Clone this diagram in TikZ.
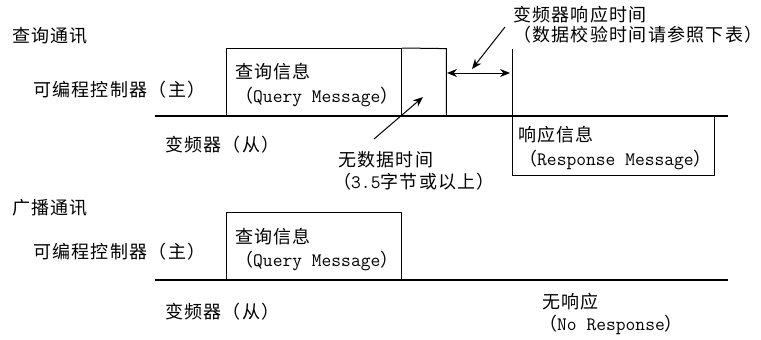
\documentclass[tikz,border=0pt]{standalone}
\usepackage{fontspec}
\usetikzlibrary{arrows.meta}
\newfontfamily\cjk[LetterSpace=7]{Noto Sans CJK SC}
\newcommand\lt[1]{{\ttfamily\fontsize{19}{20}\selectfont #1}}
\tikzset{
  lbl/.style={anchor=west, inner sep=0pt, font=\cjk\fontsize{18}{20}\selectfont},
  boxed/.style={draw, line width=1pt, inner sep=0pt},
  tline/.style={line width=1.3pt},
  arr/.style={line width=1pt, -{Stealth[length=10pt,width=8pt]}},
  darr/.style={line width=1pt, {Stealth[length=10pt,width=8pt]}-{Stealth[length=10pt,width=8pt]}}
}
\begin{document}
\begin{tikzpicture}[x=1pt,y=-1pt]
\useasboundingbox (0,0) rectangle (761,340);
% ---------- top: query communication ----------
\node[lbl] (t1) at (12,36) {查询通讯};
\node[lbl] (m1) at (33,90) {可编程控制器（主）};
\node[lbl] (s1) at (165,145) {变频器（从）};
\node[boxed, anchor=south west, minimum width=175, minimum height=67] (q1) at (226,116) {};
\node[inner sep=0pt, anchor=south west, minimum width=44, minimum height=67] (nd) at (q1.south east) {};
\draw[line width=1pt] (q1.north east) -- (nd.north east) -- (nd.south east);
\node[boxed, anchor=north west, minimum width=202, minimum height=59] (r1) at (512,116) {};
\coordinate (vt) at (512,49);
\draw[line width=1pt] (vt) -- (r1.north west);
\coordinate (t1a) at (155,116);
\coordinate (t1b) at (728,116);
\draw[tline] (t1a) -- (t1b);
\node[lbl] (q1a) at (235,72) {查询信息};
\node[lbl] (q1b) at (235,97) {（\lt{Query Message}）};
\node[lbl] (r1a) at (518,135) {响应信息};
\node[lbl] (r1b) at (519,160) {（\lt{Response Message}）};
% response time
\node[lbl] (rt1) at (513,15) {变频器响应时间};
\node[lbl] (rt2) at (513,35) {（数据校验时间请参照下表）};
\coordinate (da1) at (447,73);
\coordinate (da2) at (510,73);
\draw[darr] (da1) -- (da2);
\coordinate (rtt) at (505,27);
\coordinate (rth) at (472,69);
\draw[arr] (rtt) -- (rth);
% no data time
\node[lbl] (nd1) at (338,160) {无数据时间};
\node[lbl] (nd2) at (333,182) {（\lt{3.5}字节或以上）};
\coordinate (ndt) at (374,139);
\coordinate (ndh) at (423,97);
\draw[arr] (ndt) -- (ndh);
% ---------- bottom: broadcast ----------
\node[lbl] (t2) at (12,208) {广播通讯};
\node[lbl] (m2) at (33,252) {可编程控制器（主）};
\node[lbl] (s2) at (165,312) {变频器（从）};
\node[boxed, anchor=south west, minimum width=175, minimum height=67] (q2) at (226,280) {};
\coordinate (t2a) at (155,280);
\coordinate (t2b) at (728,280);
\draw[tline] (t2a) -- (t2b);
\node[lbl] (q2a) at (235,237) {查询信息};
\node[lbl] (q2b) at (235,261) {（\lt{Query Message}）};
\node[lbl] (nr1) at (542,302) {无响应};
\node[lbl] (nr2) at (539,325) {（\lt{No Response}）};
\end{tikzpicture}
\end{document}
